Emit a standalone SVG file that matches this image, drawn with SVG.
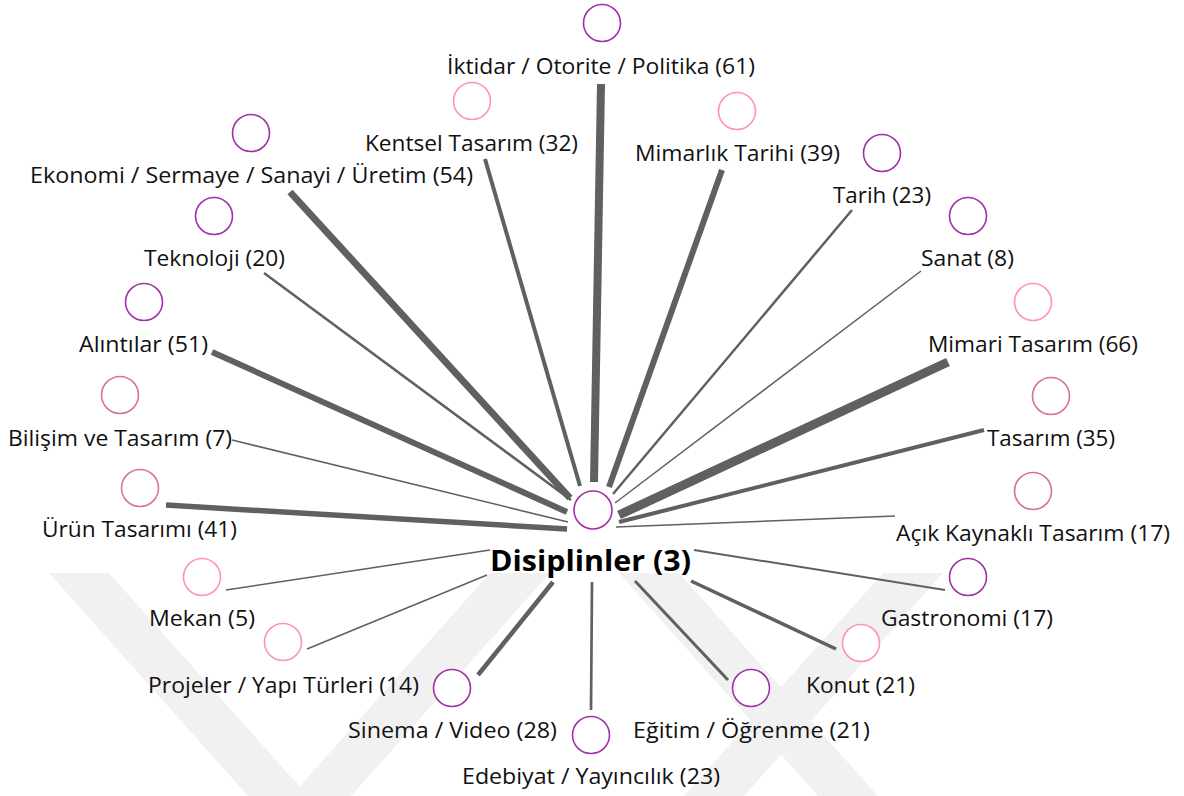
<svg xmlns="http://www.w3.org/2000/svg" width="1184" height="796" viewBox="0 0 1184 796">
<style>
.bg{fill:#ffffff}
.wm{fill:#f1f1f1}
.c{stroke:#606060;stroke-linecap:butt;fill:none}
.n{fill:#ffffff;stroke-width:1.6}
.pu{stroke:#a030a8}
.pk{stroke:#ff90c4}
.ro{stroke:#d8709e}
.t{font-family:"Open Sans","Noto Sans","Liberation Sans",sans-serif;font-size:21.5px;fill:#111111}
.tb{font-family:"Open Sans","Noto Sans","Liberation Sans",sans-serif;font-size:28px;font-weight:bold;fill:#000000}
</style>
<rect class="bg" x="0" y="0" width="1184" height="796"/>
<g id="watermark">
<polygon class="wm" points="49,573 109,573 308,796 248,796"/>
<polygon class="wm" points="490,573 550,573 351,796 291,796"/>
<polygon class="wm" points="619,573 679,573 878,796 818,796"/>
<polygon class="wm" points="883,573 943,573 744,796 684,796"/>
</g>
<g id="connectors">
<line class="c" x1="601" y1="84" x2="594" y2="482" stroke-width="8"/>
<line class="c" x1="485" y1="159" x2="580" y2="486" stroke-width="4"/>
<line class="c" x1="290" y1="192" x2="570" y2="498" stroke-width="7"/>
<line class="c" x1="264" y1="273" x2="571" y2="500" stroke-width="2.5"/>
<line class="c" x1="212" y1="352" x2="567" y2="512" stroke-width="6"/>
<line class="c" x1="232" y1="440" x2="568" y2="522" stroke-width="1.5"/>
<line class="c" x1="166" y1="505" x2="567" y2="529" stroke-width="5.5"/>
<line class="c" x1="226" y1="590" x2="490" y2="550" stroke-width="1.5"/>
<line class="c" x1="307" y1="649" x2="487" y2="575" stroke-width="1.5"/>
<line class="c" x1="478" y1="675" x2="553" y2="582" stroke-width="4.5"/>
<line class="c" x1="591" y1="710" x2="592" y2="582" stroke-width="2.7"/>
<line class="c" x1="728" y1="680" x2="635" y2="581" stroke-width="3"/>
<line class="c" x1="836" y1="649" x2="691" y2="581" stroke-width="3.5"/>
<line class="c" x1="945" y1="590" x2="694" y2="550" stroke-width="2"/>
<line class="c" x1="895" y1="516" x2="616" y2="527" stroke-width="1.5"/>
<line class="c" x1="984" y1="430" x2="619" y2="522" stroke-width="4"/>
<line class="c" x1="948" y1="362" x2="619" y2="515" stroke-width="9"/>
<line class="c" x1="921" y1="271" x2="615" y2="503" stroke-width="1.5"/>
<line class="c" x1="852" y1="210" x2="613" y2="494" stroke-width="2.5"/>
<line class="c" x1="722" y1="170" x2="609" y2="487" stroke-width="6"/>
</g>
<g id="node-center">
<circle class="n pu" cx="593" cy="510" r="19"/>
<text class="tb" x="490" y="571" textLength="201" lengthAdjust="spacingAndGlyphs">Disiplinler (3)</text>
</g>
<g id="node-iktidar">
<circle class="n pu" cx="602" cy="23" r="18.5"/>
<text class="t" x="447" y="74" textLength="308" lengthAdjust="spacingAndGlyphs">İktidar / Otorite / Politika (61)</text>
</g>
<g id="node-kentsel">
<circle class="n pk" cx="472" cy="101" r="18.5"/>
<text class="t" x="365" y="151" textLength="213" lengthAdjust="spacingAndGlyphs">Kentsel Tasarım (32)</text>
</g>
<g id="node-mimarlik-tarihi">
<circle class="n pk" cx="737" cy="111" r="18.5"/>
<text class="t" x="635" y="161" textLength="205" lengthAdjust="spacingAndGlyphs">Mimarlık Tarihi (39)</text>
</g>
<g id="node-ekonomi">
<circle class="n pu" cx="251" cy="133" r="18.5"/>
<text class="t" x="30" y="183" textLength="443" lengthAdjust="spacingAndGlyphs">Ekonomi / Sermaye / Sanayi / Üretim (54)</text>
</g>
<g id="node-tarih">
<circle class="n pu" cx="882" cy="153" r="18.5"/>
<text class="t" x="833" y="203" textLength="98" lengthAdjust="spacingAndGlyphs">Tarih (23)</text>
</g>
<g id="node-teknoloji">
<circle class="n pu" cx="214" cy="216" r="18.5"/>
<text class="t" x="144" y="266" textLength="141" lengthAdjust="spacingAndGlyphs">Teknoloji (20)</text>
</g>
<g id="node-sanat">
<circle class="n pu" cx="968" cy="216" r="18.5"/>
<text class="t" x="921" y="266" textLength="93" lengthAdjust="spacingAndGlyphs">Sanat (8)</text>
</g>
<g id="node-alintilar">
<circle class="n pu" cx="144" cy="302" r="18.5"/>
<text class="t" x="79" y="352" textLength="129" lengthAdjust="spacingAndGlyphs">Alıntılar (51)</text>
</g>
<g id="node-mimari-tasarim">
<circle class="n pk" cx="1033" cy="302" r="18.5"/>
<text class="t" x="928" y="352" textLength="210" lengthAdjust="spacingAndGlyphs">Mimari Tasarım (66)</text>
</g>
<g id="node-bilisim">
<circle class="n ro" cx="120" cy="395" r="18.5"/>
<text class="t" x="8" y="446" textLength="224" lengthAdjust="spacingAndGlyphs">Bilişim ve Tasarım (7)</text>
</g>
<g id="node-tasarim">
<circle class="n ro" cx="1051" cy="396" r="18.5"/>
<text class="t" x="987" y="446" textLength="128" lengthAdjust="spacingAndGlyphs">Tasarım (35)</text>
</g>
<g id="node-urun">
<circle class="n ro" cx="140" cy="488" r="18.5"/>
<text class="t" x="42" y="537" textLength="195" lengthAdjust="spacingAndGlyphs">Ürün Tasarımı (41)</text>
</g>
<g id="node-acik-kaynakli">
<circle class="n ro" cx="1033" cy="491" r="18.5"/>
<text class="t" x="896" y="541" textLength="274" lengthAdjust="spacingAndGlyphs">Açık Kaynaklı Tasarım (17)</text>
</g>
<g id="node-mekan">
<circle class="n pk" cx="202" cy="577" r="18.5"/>
<text class="t" x="149" y="626" textLength="106" lengthAdjust="spacingAndGlyphs">Mekan (5)</text>
</g>
<g id="node-gastronomi">
<circle class="n pu" cx="968" cy="577" r="18.5"/>
<text class="t" x="881" y="626" textLength="172" lengthAdjust="spacingAndGlyphs">Gastronomi (17)</text>
</g>
<g id="node-projeler">
<circle class="n pk" cx="283" cy="642" r="18.5"/>
<text class="t" x="148" y="693" textLength="271" lengthAdjust="spacingAndGlyphs">Projeler / Yapı Türleri (14)</text>
</g>
<g id="node-konut">
<circle class="n pk" cx="861" cy="643" r="18.5"/>
<text class="t" x="806" y="693" textLength="109" lengthAdjust="spacingAndGlyphs">Konut (21)</text>
</g>
<g id="node-sinema">
<circle class="n pu" cx="452" cy="688" r="18.5"/>
<text class="t" x="348" y="738" textLength="209" lengthAdjust="spacingAndGlyphs">Sinema / Video (28)</text>
</g>
<g id="node-egitim">
<circle class="n pu" cx="751" cy="688" r="18.5"/>
<text class="t" x="633" y="738" textLength="237" lengthAdjust="spacingAndGlyphs">Eğitim / Öğrenme (21)</text>
</g>
<g id="node-edebiyat">
<circle class="n pu" cx="591" cy="735" r="18.5"/>
<text class="t" x="462" y="784" textLength="258" lengthAdjust="spacingAndGlyphs">Edebiyat / Yayıncılık (23)</text>
</g>
</svg>
